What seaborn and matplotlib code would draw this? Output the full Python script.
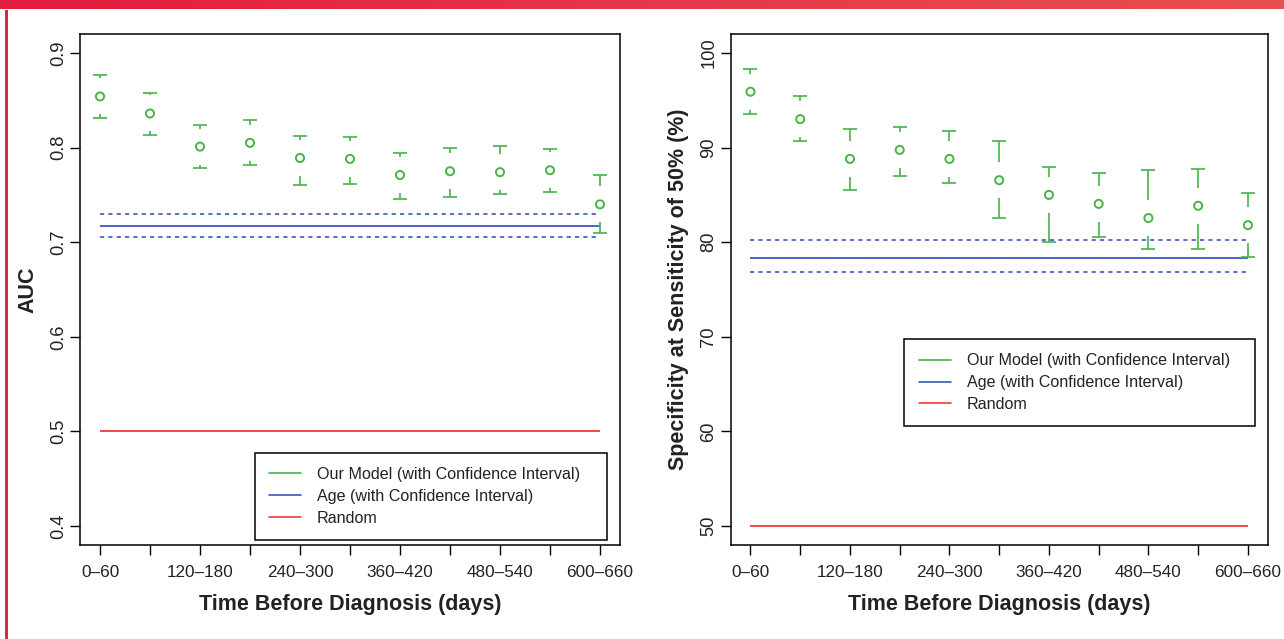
import numpy as np
import pandas as pd
import matplotlib
matplotlib.use("Agg")
import matplotlib.pyplot as plt
import seaborn as sns
from matplotlib.lines import Line2D
from matplotlib.patches import Rectangle
from matplotlib.colors import LinearSegmentedColormap

# ---------------- data ----------------
periods = ["0–60", "60–120", "120–180", "180–240", "240–300", "300–360",
           "360–420", "420–480", "480–540", "540–600", "600–660"]
shown_periods = ["0–60", "120–180", "240–300", "360–420", "480–540", "600–660"]

auc_mean = [0.854, 0.836, 0.801, 0.805, 0.789, 0.788, 0.771, 0.775, 0.774, 0.776, 0.740]
auc_upper = [0.877, 0.858, 0.824, 0.829, 0.812, 0.811, 0.794, 0.800, 0.802, 0.799, 0.771]
auc_lower = [0.831, 0.813, 0.778, 0.782, 0.760, 0.761, 0.746, 0.748, 0.751, 0.753, 0.710]
age_auc = [0.706, 0.717, 0.730]        # lower, estimate, upper
random_auc = 0.5

spec_mean = [95.9, 93.0, 88.8, 89.75, 88.8, 86.55, 85.0, 84.05, 82.55, 83.85, 81.8]
spec_upper = [98.25, 95.4, 91.95, 92.15, 91.75, 90.65, 87.9, 87.3, 87.6, 87.7, 85.2]
spec_lower = [93.5, 90.65, 85.5, 86.95, 86.25, 82.55, 80.05, 80.55, 79.3, 79.3, 78.45]
age_spec = [76.85, 78.3, 80.25]
random_spec = 50

auc_ticks = [0.4, 0.5, 0.6, 0.7, 0.8, 0.9]
auc_ticklabels = ["0.4", "0.5", "0.6", "0.7", "0.8", "0.9"]
spec_ticks = [50, 60, 70, 80, 90, 100]
spec_ticklabels = ["50", "60", "70", "80", "90", "100"]

legend_labels = ["Our Model (with Confidence Interval)", "Age (with Confidence Interval)", "Random"]

# ---------------- style ----------------
GREEN = "#46B446"
BLUE = "#3A58C0"
RED = "#EE3A3A"
FONT = "Liberation Sans"

sns.set_theme(style="white")
plt.rcParams["font.family"] = [FONT, "DejaVu Sans"]

W, H = 1284, 639
fig = plt.figure(figsize=(W / 100, H / 100), dpi=100)
fig.patch.set_facecolor("white")

# banner & left rule
bax = fig.add_axes([0, 1 - 9.5 / H, 1, 9.5 / H])
grad = np.linspace(0, 1, 256).reshape(1, -1)
bax.imshow(grad, aspect="auto", extent=[0, 1, 0, 1],
           cmap=LinearSegmentedColormap.from_list("b", ["#E31B3D", "#E6364A", "#E94F4F"]))
bax.set_axis_off()
fig.patches.append(Rectangle((5 / W, 0), 3 / W, 1 - 9.5 / H, transform=fig.transFigure,
                             facecolor="#E3223F", edgecolor="none"))

pos = np.arange(1, len(periods) + 1)


def panel(ax, mean, upper, lower, age, rnd, ylim, ticks, ticklabels, ylabel, legend_box):
    xlim = (0.6, 11.4)
    ax.set_xlim(*xlim)
    ax.set_ylim(*ylim)
    # pixel -> data conversions for R-style CI drawing
    ax_h_px = ax.get_position().height * H
    ax_w_px = ax.get_position().width * W
    gap = 18 * (ylim[1] - ylim[0]) / ax_h_px
    capw = 7 * (xlim[1] - xlim[0]) / ax_w_px

    df = pd.DataFrame({"pos": pos, "mean": mean, "upper": upper, "lower": lower})
    # reference lines
    ax.hlines(age[1], pos[0], pos[-1], color=BLUE, lw=1.3, zorder=2)
    ax.hlines([age[0], age[2]], pos[0], pos[-1], color=BLUE, lw=1.2,
              linestyles=(0, (2.5, 2.5)), zorder=2)
    ax.hlines(rnd, pos[0], pos[-1], color=RED, lw=1.3, zorder=2)
    # confidence intervals
    ax.hlines(df["upper"], df["pos"] - capw, df["pos"] + capw, color=GREEN, lw=1.2, zorder=3)
    ax.hlines(df["lower"], df["pos"] - capw, df["pos"] + capw, color=GREEN, lw=1.2, zorder=3)
    up = df[df["upper"] - df["mean"] > gap]
    ax.vlines(up["pos"], up["mean"] + gap, up["upper"], color=GREEN, lw=1.2, zorder=3)
    lo = df[df["mean"] - df["lower"] > gap]
    ax.vlines(lo["pos"], lo["lower"], lo["mean"] - gap, color=GREEN, lw=1.2, zorder=3)
    # point estimates
    sns.scatterplot(data=df, x="pos", y="mean", ax=ax, marker="o", s=34, zorder=4,
                    legend=False)
    coll = ax.collections[-1]
    coll.set_facecolor("none")
    coll.set_edgecolor(GREEN)
    coll.set_linewidth(1.4)

    # axes styling (R-like)
    for sp in ax.spines.values():
        sp.set_visible(True)
        sp.set_color("black")
        sp.set_linewidth(1.1)
    ax.set_xticks(pos)
    ax.set_xticklabels([p if p in shown_periods else "" for p in periods])
    ax.set_yticks(ticks)
    ax.set_yticklabels(ticklabels)
    ax.tick_params(axis="both", direction="out", length=7, width=1.0, color="black",
                   labelsize=12.3, labelcolor="#222222", bottom=True, left=True)
    ax.tick_params(axis="x", pad=7.5)
    ax.tick_params(axis="y", pad=2.5, labelsize=13.2)
    for lab in ax.get_yticklabels():
        lab.set_rotation(90)
        lab.set_va("center")
    ax.set_xlabel("Time Before Diagnosis (days)", fontsize=15.5, fontweight="bold",
                  color="#222222", labelpad=10)
    ax.set_ylabel(ylabel, fontsize=15.5, fontweight="bold", color="#222222", labelpad=8.5)

    handles = [Line2D([], [], color=GREEN, lw=1.2),
               Line2D([], [], color=BLUE, lw=1.2),
               Line2D([], [], color=RED, lw=1.2)]
    x0, y0, x1, y1 = legend_box
    leg = ax.legend(handles, legend_labels, loc="upper left",
                    bbox_to_anchor=(x0 / W, 1 - y0 / H, (x1 - x0) / W, 0),
                    bbox_transform=fig.transFigure, mode="expand",
                    fontsize=11.6, frameon=True, fancybox=False, borderpad=0.9,
                    labelspacing=0.42, handlelength=2.0, handletextpad=0.95,
                    borderaxespad=0)
    fr = leg.get_frame()
    fr.set_edgecolor("black")
    fr.set_linewidth(1.1)
    fr.set_facecolor("white")
    fr.set_alpha(1)
    for t in leg.get_texts():
        t.set_color("#222222")


ax1 = fig.add_axes([80 / W, 1 - 545 / H, 540 / W, 511 / H])
panel(ax1, auc_mean, auc_upper, auc_lower, age_auc, random_auc, (0.38, 0.92),
      auc_ticks, auc_ticklabels, "AUC", (254.7, 452.6, 607.3, 538.3))

ax2 = fig.add_axes([730.6 / W, 1 - 545 / H, 537.2 / W, 511 / H])
panel(ax2, spec_mean, spec_upper, spec_lower, age_spec, random_spec, (48, 102),
      spec_ticks, spec_ticklabels, "Specificity at Sensiticity of 50% (%)",
      (904.5, 338.9, 1254.7, 424.7))

fig.savefig("out.png", dpi=100, facecolor="white")
